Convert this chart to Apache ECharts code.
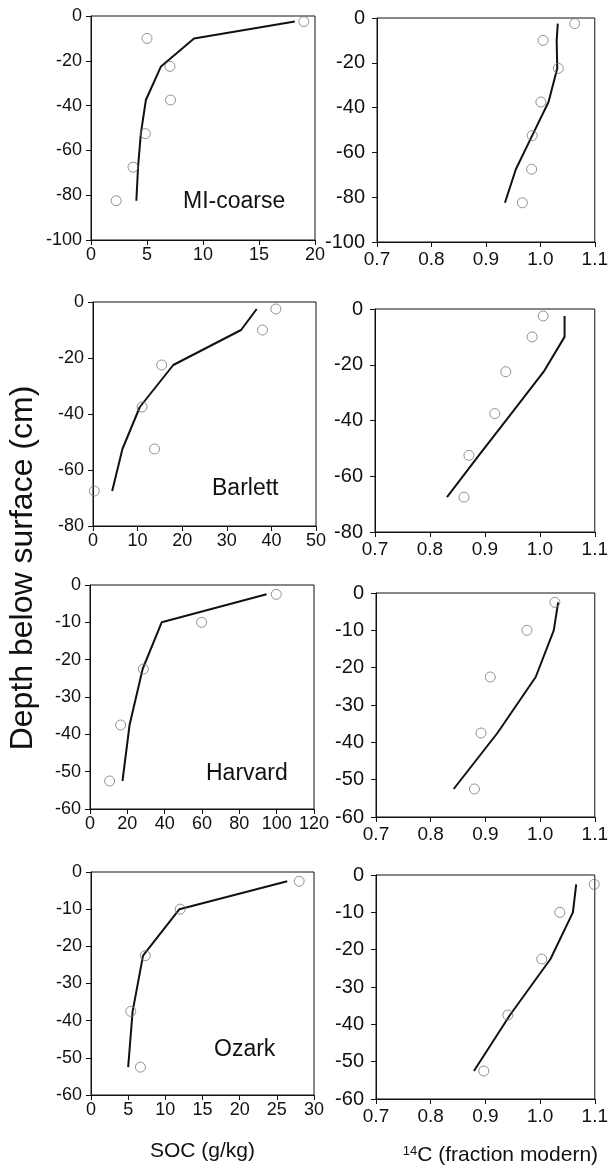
<!DOCTYPE html>
<html>
<head>
<meta charset="utf-8">
<script src="https://cdn.jsdelivr.net/npm/echarts@6/dist/echarts.min.js"></script>
<style>
  html, body { margin: 0; padding: 0; background: #fff; }
  #chart { width: 611px; height: 1172px; }
</style>
</head>
<body>
<div id="chart"></div>
<script>
// Sampling depths (cm, negative = below surface)
const depthMI = [-2.5, -10, -22.5, -37.5, -52.5, -67.5, -82.5];
const depthBarlett = [-2.5, -10, -22.5, -37.5, -52.5, -67.5];
const depthHarvard = [-2.5, -10, -22.5, -37.5, -52.5];
const depthOzark = [-2.5, -10, -22.5, -37.5, -52.5];

// SOC (g/kg): measured and modelled
const socObsMI = [19.0, 5.0, 7.05, 7.1, 4.85, 3.75, 2.25];
const socModelMI = [18.2, 9.2, 6.25, 4.9, 4.45, 4.2, 4.05];
const socObsBarlett = [41.0, 38.0, 15.4, 11.0, 13.8, 0.3];
const socModelBarlett = [36.7, 33.2, 18.0, 10.5, 6.6, 4.3];
const socObsHarvard = [99.8, 59.8, 28.6, 16.4, 10.5];
const socModelHarvard = [94.6, 38.4, 28.2, 21.2, 17.4];
const socObsOzark = [28.0, 12.0, 7.3, 5.35, 6.65];
const socModelOzark = [26.4, 11.9, 7.0, 5.6, 5.0];

// 14C (fraction modern): measured and modelled
const c14ObsMI = [1.063, 1.005, 1.033, 1.001, 0.985, 0.984, 0.967];
const c14ModelMI = [1.032, 1.030, 1.031, 1.015, 0.985, 0.955, 0.935];
const c14ObsBarlett = [1.006, 0.986, 0.938, 0.918, 0.871, 0.862];
const c14ModelBarlett = [1.045, 1.045, 1.007, 0.948, 0.889, 0.831];
const c14ObsHarvard = [1.027, 0.976, 0.909, 0.892, 0.880];
const c14ModelHarvard = [1.033, 1.025, 0.992, 0.922, 0.842];
const c14ObsOzark = [1.099, 1.036, 1.003, 0.941, 0.897];
const c14ModelOzark = [1.066, 1.060, 1.019, 0.945, 0.879];

// Axis tick labels
const socTicksMI = [0, 5, 10, 15, 20];
const socTicksBarlett = [0, 10, 20, 30, 40, 50];
const socTicksHarvard = [0, 20, 40, 60, 80, 100, 120];
const socTicksOzark = [0, 5, 10, 15, 20, 25, 30];
const c14Ticks = [0.7, 0.8, 0.9, 1.0, 1.1];
const depthTicksMI = [-100, -80, -60, -40, -20, 0];
const depthTicksBarlett = [-80, -60, -40, -20, 0];
const depthTicksHarvard = [-60, -50, -40, -30, -20, -10, 0];
const depthTicksOzark = [-60, -50, -40, -30, -20, -10, 0];

// Site names
const siteNames = ['MI-coarse', 'Barlett', 'Harvard', 'Ozark'];

const FONT = "'Liberation Sans', Arial, sans-serif";
const INK = '#111';

const zip = (xs, ys) => xs.map((x, i) => [x, ys[i]]);
const step = t => +(t[1] - t[0]).toFixed(6);

// Panel layout: [left, top, width, height]
const panels = [
  { box: [91, 16, 224, 224], xt: socTicksMI, yt: depthTicksMI, d: depthMI, obs: socObsMI, mod: socModelMI, col: 0 },
  { box: [377, 18, 222, 224], xt: c14Ticks, yt: depthTicksMI, d: depthMI, obs: c14ObsMI, mod: c14ModelMI, col: 1 },
  { box: [93, 302, 223, 224], xt: socTicksBarlett, yt: depthTicksBarlett, d: depthBarlett, obs: socObsBarlett, mod: socModelBarlett, col: 0 },
  { box: [375, 309, 222, 223], xt: c14Ticks, yt: depthTicksBarlett, d: depthBarlett, obs: c14ObsBarlett, mod: c14ModelBarlett, col: 1 },
  { box: [90, 585, 224, 224], xt: socTicksHarvard, yt: depthTicksHarvard, d: depthHarvard, obs: socObsHarvard, mod: socModelHarvard, col: 0 },
  { box: [376, 593, 223, 224], xt: c14Ticks, yt: depthTicksHarvard, d: depthHarvard, obs: c14ObsHarvard, mod: c14ModelHarvard, col: 1 },
  { box: [91, 872, 223, 223], xt: socTicksOzark, yt: depthTicksOzark, d: depthOzark, obs: socObsOzark, mod: socModelOzark, col: 0, name: 'SOC (g/kg)' },
  { box: [376, 875, 224, 224], xt: c14Ticks, yt: depthTicksOzark, d: depthOzark, obs: c14ObsOzark, mod: c14ModelOzark, col: 1, name: '{sup|14}{base|C (fraction modern)}' }
];

const grid = [], xAxis = [], yAxis = [], series = [];

panels.forEach((p, i) => {
  const [l, t, w, h] = p.box;
  grid.push({ left: l, top: t, width: w, height: h, show: true, borderColor: INK, borderWidth: 1, backgroundColor: 'transparent' });
  const isC14 = p.col === 1;
  xAxis.push({
    gridIndex: i, type: 'value',
    min: p.xt[0], max: p.xt[p.xt.length - 1], interval: step(p.xt),
    axisLine: { show: true, onZero: false, lineStyle: { color: INK, width: 1 } },
    axisTick: { show: true, length: 5, lineStyle: { color: INK } },
    splitLine: { show: false },
    axisLabel: {
      color: INK, fontFamily: FONT, fontSize: isC14 ? 19 : 18, margin: isC14 ? 8 : 6,
      formatter: v => isC14 ? v.toFixed(1) : String(v)
    },
    name: p.name || '', nameLocation: 'middle', nameGap: 46,
    nameTextStyle: {
      color: INK, fontFamily: FONT, fontSize: 21,
      padding: isC14 ? [0, 0, 0, 30] : 0,
      rich: {
        sup: { fontSize: 13, fontFamily: FONT, color: INK, verticalAlign: 'top' },
        base: { fontSize: 21, fontFamily: FONT, color: INK }
      }
    }
  });
  yAxis.push({
    gridIndex: i, type: 'value',
    min: p.yt[0], max: p.yt[p.yt.length - 1], interval: step(p.yt),
    axisLine: { show: true, onZero: false, lineStyle: { color: INK, width: 1 } },
    axisTick: { show: true, length: 5, lineStyle: { color: INK } },
    splitLine: { show: false },
    axisLabel: { color: INK, fontFamily: FONT, fontSize: isC14 ? 20 : 18, margin: isC14 ? 12 : 9 }
  });
  series.push({
    type: 'line', xAxisIndex: i, yAxisIndex: i,
    data: zip(p.mod, p.d),
    showSymbol: false, symbol: 'none',
    lineStyle: { color: INK, width: 2 },
    silent: true, animation: false, z: 2
  });
  series.push({
    type: 'scatter', xAxisIndex: i, yAxisIndex: i,
    data: zip(p.obs, p.d),
    symbol: 'circle', symbolSize: 10, clip: false,
    itemStyle: { color: 'rgba(255,255,255,0)', borderColor: '#777', borderWidth: 1 },
    silent: true, animation: false, z: 3
  });
});

// Site labels placed inside each SOC panel
const siteLabelPos = [[183, 202], [212, 489], [206, 774], [214, 1050]];
const graphic = siteNames.map((s, k) => ({
  type: 'text', left: siteLabelPos[k][0], top: siteLabelPos[k][1] - 12,
  style: { text: s, font: `23px ${FONT}`, fill: INK }
}));

// Shared depth axis title
graphic.push({
  type: 'text', x: 23, y: 568, rotation: Math.PI / 2,
  style: { text: 'Depth below surface (cm)', font: `32px ${FONT}`, fill: INK, align: 'center', verticalAlign: 'middle' }
});

const chart = echarts.init(document.getElementById('chart'), null, { renderer: 'canvas' });
chart.setOption({ animation: false, grid, xAxis, yAxis, series, graphic });
</script>
</body>
</html>
